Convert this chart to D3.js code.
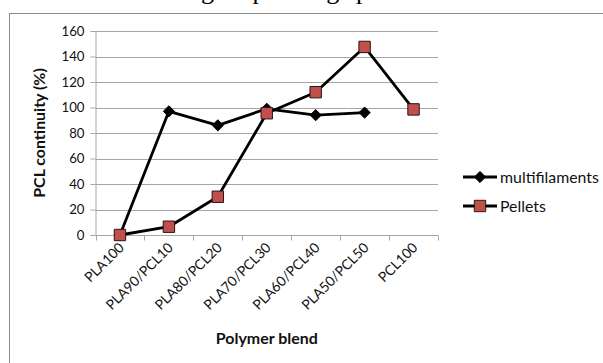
<!DOCTYPE html>
<html>
<head>
<meta charset="utf-8">
<script src="https://cdn.jsdelivr.net/npm/d3@7"></script>
<style>
  body { margin: 0; background: #fff; }
  svg { display: block; }
  text { font-family: Lato, "Open Sans", sans-serif; fill: #111; }
</style>
</head>
<body>
<div id="vis"></div>
<script>
// data
var blends = ["PLA100", "PLA90/PCL10", "PLA80/PCL20", "PLA70/PCL30", "PLA60/PCL40", "PLA50/PCL50", "PCL100"];
var multifilaments = [0, 97, 86, 99, 94, 96, null];
var pellets = [0, 6.5, 30, 95.5, 112, 147.5, 98.5];
var yTicks = [0, 20, 40, 60, 80, 100, 120, 140, 160];
var seriesNames = ["multifilaments", "Pellets"];
// cut-off document line above the chart
var topWords = ["the fibre drawing", "on pressing", "pellets"];

var W = 603, H = 363;
var plotL = 95.5, plotR = 438, plotT = 31, plotB = 235;

var svg = d3.select("#vis").append("svg")
	.attr("width", W)
	.attr("height", H);

// font size that gives a text a wanted width
function fitSize(str, weight, width) {
	var t = svg.append("text")
		.style("font-size", "100px")
		.style("font-weight", weight)
		.text(str);
	var w = t.node().getComputedTextLength();
	t.remove();
	return 100 * width / w;
}
var tickSize = fitSize("160", "normal", 23);
var labSize = fitSize("PLA90/PCL10", "normal", 88);
var legSize = fitSize("multifilaments", "normal", 99);
var titleSize = fitSize("Polymer blend", "bold", 102);

// text line of the page, only its descenders show
var topLine = svg.append("text")
	.attr("y", -1)
	.style("font-family", "'Liberation Serif', serif")
	.style("font-size", "26px")
	.style("fill", "#000");
topLine.append("tspan").attr("x", 214).attr("text-anchor", "end").text(topWords[0]);
topLine.append("tspan").attr("x", 220).attr("text-anchor", "start").text(topWords[1]);
topLine.append("tspan").attr("x", 356).text(topWords[2]);

// chart frame
svg.append("rect")
	.attr("x", 9.5).attr("y", 13.5)
	.attr("width", W).attr("height", H)
	.attr("fill", "none")
	.attr("stroke", "#8c8c8c")
	.attr("stroke-width", 1);

var x = d3.scaleBand()
	.domain(blends)
	.range([plotL, plotR]);

var y = d3.scaleLinear()
	.domain([0, 160])
	.range([plotB, plotT]);

// gridlines
svg.append("g").attr("class", "grid")
	.selectAll("line")
	.data(yTicks.filter(function(d) { return d > 0; }))
	.enter().append("line")
	.attr("x1", plotL).attr("x2", plotR)
	.attr("y1", function(d) { return Math.round(y(d)) + 0.5; })
	.attr("y2", function(d) { return Math.round(y(d)) + 0.5; })
	.attr("stroke", "#a6a6a6");

// y axis
var yAxis = svg.append("g")
	.attr("transform", "translate(" + plotL + ",0)")
	.call(d3.axisLeft(y).tickValues(yTicks).tickSize(5).tickPadding(6));
yAxis.select(".domain").attr("stroke", "#a6a6a6");
yAxis.selectAll(".tick line").attr("stroke", "#a6a6a6");
yAxis.selectAll(".tick text")
	.style("font-size", tickSize + "px")
	.style("font-family", "Lato, sans-serif")
	.attr("fill", "#111");

// x axis, ticks between categories
var xAxisG = svg.append("g")
	.attr("transform", "translate(0," + (Math.round(plotB) + 0.5) + ")");
xAxisG.append("line")
	.attr("x1", plotL).attr("x2", plotR)
	.attr("stroke", "#a6a6a6");
var bounds = blends.map(function(d) { return x(d); }).concat([plotR]);
xAxisG.selectAll(".xtick")
	.data(bounds)
	.enter().append("line")
	.attr("class", "xtick")
	.attr("x1", function(d) { return Math.round(d) + 0.5; })
	.attr("x2", function(d) { return Math.round(d) + 0.5; })
	.attr("y1", 0).attr("y2", 5)
	.attr("stroke", "#a6a6a6");
xAxisG.selectAll(".xlab")
	.data(blends)
	.enter().append("text")
	.attr("class", "xlab")
	.attr("text-anchor", "end")
	.style("font-size", labSize + "px")
	.attr("transform", function(d) {
		return "translate(" + (x(d) + x.bandwidth() / 2 + 5) + ",13) rotate(-45)";
	})
	.text(function(d) { return d; });

// axis titles
svg.append("text")
	.attr("text-anchor", "middle")
	.attr("transform", "translate(45," + ((plotT + plotB) / 2) + ") rotate(-90)")
	.style("font-size", titleSize + "px")
	.style("font-weight", "bold")
	.text("PCL continuity (%)");

svg.append("text")
	.attr("text-anchor", "middle")
	.attr("x", (plotL + plotR) / 2)
	.attr("y", 344)
	.style("font-size", titleSize + "px")
	.style("font-weight", "bold")
	.text("Polymer blend");

// series
var cx = function(d, i) { return x(blends[i]) + x.bandwidth() / 2; };
var line = d3.line()
	.defined(function(d) { return d != null; })
	.x(cx)
	.y(function(d) { return y(d); });

var diamond = d3.symbol().type(d3.symbolDiamond2).size(80);
var square = d3.symbol().type(d3.symbolSquare).size(130);

function drawSeries(vals, sym, fill, stroke) {
	svg.append("path")
		.datum(vals)
		.attr("d", line)
		.attr("fill", "none")
		.attr("stroke", "#000")
		.attr("stroke-width", 2.8)
		.attr("stroke-linejoin", "round");
	svg.append("g").selectAll("path")
		.data(vals.map(function(v, i) { return {v: v, i: i}; }).filter(function(d) { return d.v != null; }))
		.enter().append("path")
		.attr("transform", function(d) { return "translate(" + cx(d.v, d.i) + "," + y(d.v) + ")"; })
		.attr("d", sym)
		.attr("fill", fill)
		.attr("stroke", stroke)
		.attr("stroke-width", 1);
}

drawSeries(multifilaments, diamond, "#000", "#000");
drawSeries(pellets, square, "#c0504d", "#2b1414");

// legend
var legend = svg.append("g");
var legendY = [177, 206];
var legendSym = [diamond, square];
var legendFill = ["#000", "#c0504d"];
var legendStroke = ["#000", "#2b1414"];
seriesNames.forEach(function(name, i) {
	legend.append("line")
		.attr("x1", 463).attr("x2", 497)
		.attr("y1", legendY[i]).attr("y2", legendY[i])
		.attr("stroke", "#000").attr("stroke-width", 2.8);
	legend.append("path")
		.attr("transform", "translate(480," + legendY[i] + ")")
		.attr("d", legendSym[i])
		.attr("fill", legendFill[i])
		.attr("stroke", legendStroke[i]);
	legend.append("text")
		.attr("x", 500)
		.attr("y", legendY[i])
		.attr("dy", "0.35em")
		.style("font-size", legSize + "px")
		.text(name);
});
</script>
</body>
</html>
